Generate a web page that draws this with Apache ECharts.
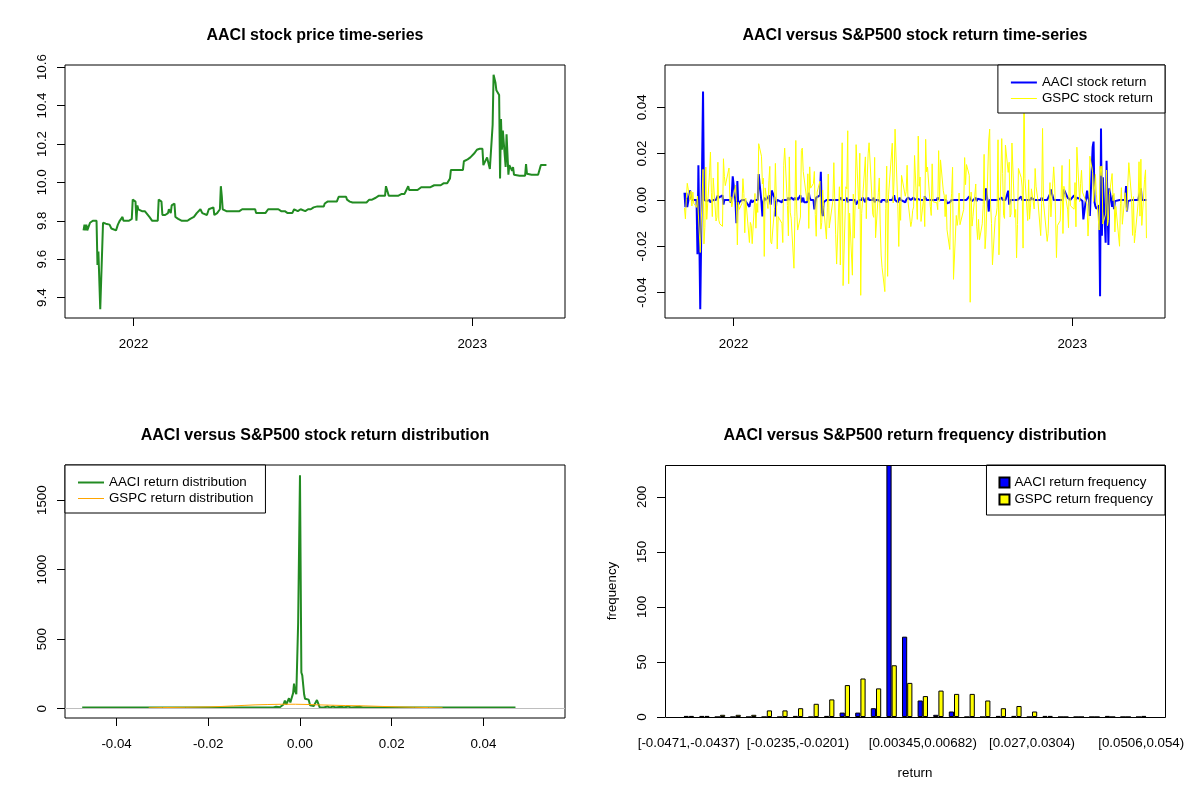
<!DOCTYPE html>
<html>
<head>
<meta charset="utf-8">
<title>AACI versus S&amp;P500</title>
<script src="https://cdn.jsdelivr.net/npm/echarts@6.0.0/dist/echarts.min.js"></script>
<style>
    html, body { margin: 0; padding: 0; background: #fff; }
    #chart { width: 1200px; height: 800px; }
</style>
</head>
<body>
<div id="chart"></div>
<script>
    // ---- data ----
    var firstDay = '2021-11-08';
    var marketHolidays = ['2021-11-25', '2021-12-24', '2022-01-17', '2022-02-21', '2022-04-15',
        '2022-05-30', '2022-06-20', '2022-07-04', '2022-09-05', '2022-11-24', '2022-12-26',
        '2023-01-02', '2023-01-16', '2023-02-20'];

    // AACI closing price, one value per trading day
    var aaciPrice = [
        9.75, 9.78, 9.75, 9.78, 9.75, 9.79, 9.80, 9.80, 9.80, 9.80,
        9.80, 9.57, 9.64, 9.34, 9.79, 9.79, 9.785, 9.785, 9.78, 9.78,
        9.77, 9.76, 9.75, 9.75, 9.75, 9.76, 9.78, 9.79, 9.80, 9.82,
        9.80, 9.80, 9.80, 9.80, 9.80, 9.79, 9.81, 9.91, 9.90, 9.80,
        9.88, 9.86, 9.85, 9.85, 9.85, 9.85, 9.85, 9.85, 9.82, 9.81,
        9.81, 9.80, 9.80, 9.80, 9.80, 9.80, 9.91, 9.90, 9.83, 9.82,
        9.83, 9.83, 9.84, 9.86, 9.86, 9.84, 9.88, 9.89, 9.82, 9.81,
        9.81, 9.81, 9.80, 9.80, 9.80, 9.80, 9.80, 9.81, 9.81, 9.81,
        9.82, 9.82, 9.83, 9.83, 9.84, 9.84, 9.86, 9.85, 9.84, 9.85,
        9.84, 9.83, 9.83, 9.86, 9.87, 9.87, 9.87, 9.83, 9.82, 9.83,
        9.84, 9.86, 9.98, 9.93, 9.86, 9.85, 9.85, 9.85, 9.85, 9.85,
        9.85, 9.85, 9.85, 9.85, 9.85, 9.85, 9.85, 9.86, 9.86, 9.86,
        9.86, 9.87, 9.86, 9.86, 9.86, 9.86, 9.86, 9.86, 9.86, 9.84,
        9.84, 9.84, 9.84, 9.84, 9.85, 9.84, 9.85, 9.85, 9.86, 9.86,
        9.86, 9.87, 9.86, 9.86, 9.86, 9.86, 9.86, 9.85, 9.85, 9.85,
        9.85, 9.84, 9.84, 9.84, 9.84, 9.84, 9.86, 9.86, 9.85, 9.85,
        9.86, 9.86, 9.86, 9.85, 9.85, 9.85, 9.86, 9.86, 9.86, 9.86,
        9.87, 9.87, 9.875, 9.875, 9.875, 9.875, 9.875, 9.875, 9.89, 9.90,
        9.90, 9.90, 9.90, 9.90, 9.90, 9.90, 9.90, 9.90, 9.91, 9.925,
        9.925, 9.925, 9.925, 9.925, 9.925, 9.925, 9.91, 9.90, 9.895, 9.895,
        9.895, 9.895, 9.895, 9.895, 9.895, 9.895, 9.895, 9.895, 9.895, 9.895,
        9.895, 9.91, 9.915, 9.915, 9.91, 9.91, 9.92, 9.915, 9.92, 9.93,
        9.93, 9.93, 9.93, 9.93, 9.93, 9.98, 9.93, 9.93, 9.93, 9.93,
        9.93, 9.93, 9.93, 9.93, 9.93, 9.93, 9.94, 9.94, 9.94, 9.94,
        9.94, 9.98, 9.96, 9.96, 9.96, 9.96, 9.96, 9.96, 9.96, 9.96,
        9.96, 9.975, 9.975, 9.975, 9.975, 9.975, 9.975, 9.975, 9.975, 9.975,
        9.985, 9.985, 9.985, 9.985, 9.985, 9.985, 9.995, 9.995, 9.995, 9.995,
        9.995, 9.995, 9.995, 10.02, 10.065, 10.065, 10.065, 10.065, 10.065, 10.065,
        10.065, 10.065, 10.065, 10.065, 10.11, 10.12, 10.125, 10.13, 10.13, 10.15,
        10.16, 10.16, 10.17, 10.175, 10.18, 10.18, 10.175, 10.09, 10.13, 10.14,
        10.14, 10.07, 10.30, 10.56, 10.55, 10.52, 10.48, 10.455, 10.02, 10.33,
        10.17, 10.27, 10.08, 10.25, 10.24, 10.04, 10.09, 10.06, 10.08, 10.04,
        10.035, 10.035, 10.035, 10.035, 10.035, 10.035, 10.035, 10.095, 10.045, 10.04,
        10.04, 10.04, 10.04, 10.04, 10.04, 10.04, 10.04, 10.04, 10.04, 10.09,
        10.09, 10.09, 10.09, 10.09
    ];

    // daily returns, starting with the second trading day
    var aaciReturn = [
        0.0031, -0.0031, 0.0031, -0.0031, 0.0041, 0.0010, 0, 0, 0, 0,
        -0.0235, 0.0150, -0.0472, 0.0468, 0, -0.0005, 0, -0.0005, 0, -0.0010,
        -0.0010, -0.0010, 0, 0, 0.0010, 0.0020, 0.0010, 0.0010, 0.0020, -0.0020,
        0, 0, 0, 0, -0.0010, 0.0020, 0.0102, -0.0010, -0.0101, 0.0082,
        -0.0020, -0.0010, 0, 0, 0, 0, 0, -0.0030, -0.0010, 0,
        -0.0010, 0, 0, 0, 0, 0.0112, -0.0010, -0.0071, -0.0010, 0.0010,
        0, 0.0010, 0.0020, 0, -0.0020, 0.0041, 0.0010, -0.0071, -0.0010, 0,
        0, -0.0010, 0, 0, 0, 0, 0.0010, 0, 0, 0.0010,
        0, 0.0010, 0, 0.0010, 0, 0.0020, -0.0010, -0.0010, 0.0010, -0.0010,
        -0.0010, 0, 0.0031, 0.0010, 0, 0, -0.0041, -0.0010, 0.0010, 0.0010,
        0.0020, 0.0122, -0.0050, -0.0070, -0.0010, 0, 0, 0, 0, 0,
        0, 0, 0, 0, 0, 0, 0.0010, 0, 0, 0,
        0.0010, -0.0010, 0, 0, 0, 0, 0, 0, -0.0020, 0,
        0, 0, 0, 0.0010, -0.0010, 0.0010, 0, 0.0010, 0, 0,
        0.0010, -0.0010, 0, 0, 0, 0, -0.0010, 0, 0, 0,
        -0.0010, 0, 0, 0, 0, 0.0020, 0, -0.0010, 0, 0.0010,
        0, 0, -0.0010, 0, 0, 0.0010, 0, 0, 0, 0.0010,
        0, 0.0005, 0, 0, 0, 0, 0, 0.0015, 0.0010, 0,
        0, 0, 0, 0, 0, 0, 0, 0.0010, 0.0015, 0,
        0, 0, 0, 0, 0, -0.0015, -0.0010, -0.0005, 0, 0,
        0, 0, 0, 0, 0, 0, 0, 0, 0, 0,
        0.0015, 0.0005, 0, -0.0005, 0, 0.0010, -0.0005, 0.0005, 0.0010, 0,
        0, 0, 0, 0, 0.0050, -0.0050, 0, 0, 0, 0,
        0, 0, 0, 0, 0, 0.0010, 0, 0, 0, 0,
        0.0040, -0.0020, 0, 0, 0, 0, 0, 0, 0, 0,
        0.0015, 0, 0, 0, 0, 0, 0, 0, 0, 0.0010,
        0, 0, 0, 0, 0, 0.0010, 0, 0, 0, 0,
        0, 0, 0.0025, 0.0045, 0, 0, 0, 0, 0, 0,
        0, 0, 0, 0.0045, 0.0010, 0.0005, 0.0005, 0, 0.0020, 0.0010,
        0, 0.0010, 0.0005, 0.0005, 0, -0.0005, -0.0084, 0.0040, 0.0010, 0,
        -0.0069, 0.0228, 0.0252, -0.0009, -0.0028, -0.0038, -0.0024, -0.0416, 0.0309, -0.0155,
        0.0098, -0.0185, 0.0169, -0.0010, -0.0195, 0.0050, -0.0030, 0.0020, -0.0040, -0.0005,
        0, 0, 0, 0, 0, 0, 0.0060, -0.0050, -0.0005, 0,
        0, 0, 0, 0, 0, 0, 0, 0, 0.0050, 0,
        0, 0, 0
    ];

    var gspcReturn = [
        -0.0035, -0.0082, 0.0006, 0.0072, 0.0000, 0.0039, -0.0026, 0.0034, -0.0014, -0.0032, 0.0017, 0.0023, -0.0227, 0.0132, -0.0190,
        -0.0118, 0.0142, -0.0084, 0.0117, 0.0207, 0.0031, -0.0072, 0.0095, -0.0091, -0.0075, 0.0163, -0.0087, -0.0103, -0.0114, 0.0178, 0.0102, 0.0062, 0.0138, -0.0010, 0.0014, -0.0030, -0.0026,
        0.0064, -0.0006, -0.0194, -0.0010, -0.0041, -0.0014, 0.0092, 0.0028, -0.0142, 0.0008, -0.0184, -0.0097, -0.0110, -0.0189, 0.0028, -0.0122, -0.0015, -0.0054, 0.0243, 0.0189,
        0.0069, 0.0094, -0.0244, 0.0052, -0.0037, 0.0084, 0.0145, -0.0181, -0.0190, -0.0038, 0.0158, 0.0009, -0.0212, -0.0072, -0.0101, -0.0184, 0.0150, 0.0224, -0.0024,
        -0.0155, 0.0186, -0.0053, -0.0079, -0.0295, -0.0072, 0.0257, -0.0043, -0.0130, -0.0074, 0.0214, 0.0224, 0.0123, 0.0117, -0.0004, 0.0113, -0.0123, 0.0143, 0.0051, 0.0071, 0.0123, -0.0063, -0.0157,
        0.0034, 0.0081, -0.0126, -0.0097, 0.0043, -0.0027, -0.0169, -0.0034, 0.0112, -0.0121, -0.0002, 0.0161, -0.0006, -0.0148, -0.0277, 0.0057, -0.0281, 0.0021, 0.0247, -0.0370,
        0.0057, 0.0048, 0.0299, -0.0362, -0.0057, -0.0325, 0.0025, -0.0165, -0.0013, 0.0239, -0.0039, 0.0202, -0.0412, -0.0058, 0.0001, 0.0186, -0.0081, 0.0095, 0.0199, 0.0247, -0.0063,
        -0.0075, 0.0184, -0.0163, 0.0031, 0.0095, -0.0108, -0.0238, -0.0291, -0.0396, -0.0038, 0.0146, -0.0330, 0.0022, 0.0245, -0.0013, 0.0095, 0.0306, -0.0030, -0.0201, -0.0007, -0.0088,
        0.0106, 0.0016, 0.0036, 0.0150, -0.0008, -0.0115, -0.0092, -0.0045, -0.0030, 0.0192, -0.0084, 0.0276, 0.0059, 0.0099, -0.0093, 0.0013, -0.0115, 0.0262, 0.0121, 0.0142,
        -0.0028, -0.0067, 0.0156, -0.0008, -0.0016, -0.0012, -0.0042, 0.0213, -0.0007, 0.0173, 0.0040, 0.0019, -0.0072, 0.0023, -0.0129, -0.0214, -0.0022, 0.0029, 0.0141, -0.0343, -0.0067, -0.0110, -0.0078,
        0.0030, -0.0107, -0.0041, 0.0183, 0.0066, 0.0153, 0.0106, -0.0442, 0.0034, -0.0113, -0.0072, 0.0069, -0.0113, -0.0171, -0.0084, -0.0172, -0.0103, -0.0021, 0.0197, -0.0211, -0.0151,
        0.0259, 0.0306, -0.0020, -0.0102, -0.0280, -0.0075, -0.0065, -0.0033, 0.0260, -0.0237, 0.0265, 0.0114, -0.0067, -0.0080, 0.0237, 0.0119, 0.0163, -0.0074, -0.0061, 0.0246, -0.0075,
        -0.0041, -0.0250, -0.0106, 0.0136, 0.0096, 0.0056, -0.0208, 0.0539, 0.0092, -0.0089, 0.0087, -0.0083, -0.0031, 0.0048, -0.0039, 0.0136, 0.0059, -0.0003, -0.0154, -0.0016, 0.0309,
        -0.0009, -0.0012, -0.0179, -0.0144, -0.0019, 0.0075, -0.0073, 0.0143, 0.0073, -0.0061, -0.0249, -0.0111, -0.0090, 0.0010, 0.0149, -0.0145, 0.0059, -0.0040, -0.0120, 0.0175, -0.0025,
        -0.0040, 0.0075, -0.0116, 0.0228, -0.0008, 0.0070, 0.0128, 0.0034, 0.0040, -0.0020, -0.0156, -0.0076, 0.0189, 0.0119, -0.0007, -0.0002, 0.0110, 0.0025, -0.0130, 0.0146,
        0.0105, 0.0147, -0.0104, -0.0061, 0.0129, -0.0111, -0.0088, 0.0022, 0.0114, -0.0003, 0.0028, -0.0138, -0.0028, -0.0200, -0.0016, 0.0053, -0.0105, 0.0031, -0.0030,
        -0.0047, 0.0076, 0.0161, 0.0007, -0.0153, 0.0014, -0.0185, -0.0145, -0.0015, 0.0165, -0.0070, 0.0176, -0.0110, 0.0089, 0.0130, -0.0165
    ];

    // kernel density curves
    var aaciDensX = [-0.0475, -0.0473, -0.0470, -0.0424, -0.0422, -0.0420, -0.0209, -0.0207, -0.0205,
        -0.0130, -0.0127, -0.0124, -0.0105, -0.0102, -0.0099, -0.0078, -0.0075, -0.0072, -0.0064,
        -0.0061, -0.0058, -0.0052, -0.0048, -0.0044, -0.0040, -0.0036, -0.0033, -0.0030, -0.0027,
        -0.0024, -0.0021, -0.0018, -0.0015, -0.0013, -0.0011, -0.0008, -0.0004, 0, 0.0003,
        0.0005, 0.0007, 0.0009, 0.0011, 0.0015, 0.0019, 0.0022, 0.0026, 0.0030, 0.0034,
        0.0037, 0.0040, 0.0043, 0.0047, 0.0052, 0.0060, 0.0065, 0.0072, 0.0078, 0.0090,
        0.0096, 0.0105, 0.0112, 0.0130, 0.0137, 0.0225, 0.0229, 0.0233, 0.0248, 0.0251,
        0.0254, 0.0299, 0.0302, 0.0305, 0.0464, 0.0467, 0.0470];
    var aaciDensY = [8, 22, 8, 8, 20, 8, 8, 20, 8,
        8, 18, 8, 8, 18, 8, 8, 18, 8, 8,
        20, 8, 14, 22, 10, 24, 30, 58, 30, 34,
        75, 44, 34, 112, 180, 128, 104, 620, 1680, 260,
        240, 250, 104, 72, 72, 65, 24, 12, 20, 30,
        62, 48, 10, 18, 8, 16, 8, 16, 8, 14,
        8, 16, 8, 14, 8, 8, 20, 8, 8, 20,
        8, 8, 18, 8, 8, 22, 8];
    var gspcDensX = [-0.0330, -0.0300, -0.0250, -0.0196, -0.0170, -0.0145, -0.0120, -0.0098, -0.0070, -0.0040,
        -0.0010, 0.0020, 0.0040, 0.0070, 0.0100, 0.0142, 0.0180, 0.0213, 0.0250, 0.0280, 0.0311];
    var gspcDensY = [6, 8, 10, 13, 16, 20, 24, 27.5, 30, 32,
        32, 30, 27.5, 25, 22.5, 20, 16, 13, 10, 8, 6];

    // histogram of returns, 30 equal bins
    var binEdges = ['-0.0471', '-0.0437', '-0.0404', '-0.037', '-0.0336', '-0.0302', '-0.0269', '-0.0235',
        '-0.0201', '-0.0168', '-0.0134', '-0.01', '-0.00666', '-0.00329', '8.26e-05', '0.00345', '0.00682',
        '0.0102', '0.0136', '0.0169', '0.0203', '0.0237', '0.027', '0.0304', '0.0338', '0.0372', '0.0405',
        '0.0439', '0.0473', '0.0506', '0.054'];
    var aaciFreq = [1, 1, 0, 0, 0, 0, 0, 1, 0, 1, 4, 4, 8, 229, 73, 15, 2, 5, 0, 0, 1, 1, 0, 1, 0, 0, 0, 1, 0, 0];
    var gspcFreq = [1, 1, 2, 2, 2, 6, 6, 8, 12, 16, 29, 35, 26, 47, 31, 19, 24, 21, 21, 15, 8, 10, 5, 1, 0, 0, 0, 0, 0, 1];
    var shownBinLabels = [0, 7, 15, 22, 29];

    var priceTicks = [9.4, 9.6, 9.8, 10.0, 10.2, 10.4, 10.6];
    var returnTicks = [-0.04, -0.02, 0, 0.02, 0.04];
    var densityTicks = [0, 500, 1000, 1500];
    var freqTicks = [0, 50, 100, 150, 200];
    var yearTicks = [Date.UTC(2022, 0, 1), Date.UTC(2023, 0, 1)];

    // ---- helpers ----
    function tradingDays(start, n, skip) {
        var out = [];
        var t = Date.parse(start + 'T00:00:00Z');
        while (out.length < n) {
            var d = new Date(t);
            var wd = d.getUTCDay();
            if (wd !== 0 && wd !== 6 && skip.indexOf(d.toISOString().slice(0, 10)) < 0) out.push(t);
            t += 86400000;
        }
        return out;
    }
    function zip(xs, ys) {
        return xs.map(function (x, i) { return [x, ys[i]]; });
    }

    var dates = tradingDays(firstDay, aaciPrice.length, marketHolidays);
    var binLabels = [];
    for (var b = 0; b + 1 < binEdges.length; b++) binLabels.push('[' + binEdges[b] + ',' + binEdges[b + 1] + ')');

    var FONT = '"Liberation Sans", Arial, Helvetica, sans-serif';
    var txt = {fontFamily: FONT, fontSize: 13.33, color: '#000'};
    var tMin = Date.UTC(2021, 9, 19), tMax = Date.UTC(2023, 3, 11);

    function valueAxis(grid, min, max, ticks, fmt, extra) {
        var ax = {
            type: 'value', gridIndex: grid, min: min, max: max, scale: true,
            axisLine: {show: false, onZero: false}, splitLine: {show: false},
            axisTick: {show: true, length: 8, customValues: ticks, lineStyle: {color: '#000'}},
            axisLabel: Object.assign({customValues: ticks, margin: 20, formatter: fmt}, txt)
        };
        return Object.assign(ax, extra || {});
    }
    function fixed(digits) {
        return function (v) { return Number(v).toFixed(digits); };
    }
    function yearOf(v) {
        return String(new Date(v).getUTCFullYear());
    }
    function yAxisRot(grid, min, max, ticks, digits, extra) {
        var ax = valueAxis(grid, min, max, ticks, fixed(digits), extra);
        ax.axisLabel.rotate = 90;
        ax.axisLabel.margin = 16;
        return ax;
    }
    function mainTitle(text, x, y) {
        return {text: text, left: x, top: y, textAlign: 'center', padding: 0,
            textStyle: {fontFamily: FONT, fontSize: 16, fontWeight: 'bold', color: '#000'}};
    }
    function boxLegend(names, pos, extra) {
        return Object.assign({
            data: names, orient: 'vertical', selectedMode: false,
            padding: [11, 12, 8, 12], itemGap: 3, itemWidth: 26, itemHeight: 13,
            borderColor: '#000', borderWidth: 1, borderRadius: 0, backgroundColor: '#fff',
            textStyle: txt
        }, pos, extra || {});
    }

    var chart = echarts.init(document.getElementById('chart'), null, {renderer: 'canvas'});
    var gridBox = {show: true, borderColor: '#000', borderWidth: 1, backgroundColor: 'transparent'};

    var option = {
        animation: false,
        backgroundColor: '#fff',
        title: [
            mainTitle('AACI stock price time-series', 315, 28),
            mainTitle('AACI versus S&P500 stock return time-series', 915, 28),
            mainTitle('AACI versus S&P500 stock return distribution', 315, 428),
            mainTitle('AACI versus S&P500 return frequency distribution', 915, 428)
        ],
        grid: [
            Object.assign({left: 65, top: 65, width: 500, height: 253}, gridBox),
            Object.assign({left: 665, top: 65, width: 500, height: 253}, gridBox),
            Object.assign({left: 65, top: 465, width: 500, height: 253}, gridBox),
            {left: 681, top: 465, width: 468, height: 252, show: false}
        ],
        xAxis: [
            valueAxis(0, tMin, tMax, yearTicks, yearOf),
            valueAxis(1, tMin, tMax, yearTicks, yearOf),
            valueAxis(2, -0.05125, 0.0578, returnTicks, fixed(2)),
            {
                type: 'category', gridIndex: 3, data: binLabels,
                axisLine: {show: false, onZero: false}, axisTick: {show: false}, splitLine: {show: false},
                axisLabel: Object.assign({margin: 20,
                    interval: function (i) { return shownBinLabels.indexOf(i) >= 0; }}, txt),
                name: 'return', nameLocation: 'middle', nameGap: 50, nameTextStyle: txt
            }
        ],
        yAxis: [
            yAxisRot(0, 9.294, 10.611, priceTicks, 1),
            yAxisRot(1, -0.051, 0.0583, returnTicks, 2),
            yAxisRot(2, -67, 1753, densityTicks, 0),
            yAxisRot(3, 0, 229, freqTicks, 0, {
                offset: 16, name: 'frequency', nameLocation: 'middle', nameGap: 46,
                nameRotate: 90, nameTextStyle: txt
            })
        ],
        legend: [
            boxLegend([
                {name: 'AACI stock return', lineStyle: {width: 2}},
                {name: 'GSPC stock return', lineStyle: {width: 1}}
            ], {right: 35, top: 65}, {itemStyle: {opacity: 0}}),
            boxLegend([
                {name: 'AACI return distribution', lineStyle: {width: 2}},
                {name: 'GSPC return distribution', lineStyle: {width: 1}}
            ], {left: 65, top: 465}, {itemStyle: {opacity: 0}}),
            boxLegend(['AACI return frequency', 'GSPC return frequency'], {right: 35, top: 465},
                {icon: 'rect', itemWidth: 10, itemHeight: 10, itemGap: 4, padding: [11, 12, 9, 12]})
        ],
        series: [
            {
                name: 'AACI stock price', type: 'line', xAxisIndex: 0, yAxisIndex: 0,
                data: zip(dates, aaciPrice), symbol: 'none', showSymbol: false,
                lineStyle: {color: '#228B22', width: 2}, itemStyle: {color: '#228B22'}
            },
            {
                name: 'AACI stock return', type: 'line', xAxisIndex: 1, yAxisIndex: 1,
                data: zip(dates.slice(1), aaciReturn), symbol: 'none', showSymbol: false,
                lineStyle: {color: '#0000FF', width: 2}, itemStyle: {color: '#0000FF'}
            },
            {
                name: 'GSPC stock return', type: 'line', xAxisIndex: 1, yAxisIndex: 1,
                data: zip(dates.slice(1), gspcReturn), symbol: 'none', showSymbol: false,
                lineStyle: {color: '#FFFF00', width: 1}, itemStyle: {color: '#FFFF00'}
            },
            {
                name: 'AACI return distribution', type: 'line', xAxisIndex: 2, yAxisIndex: 2,
                data: zip(aaciDensX, aaciDensY), symbol: 'none', showSymbol: false,
                lineStyle: {color: '#228B22', width: 2}, itemStyle: {color: '#228B22'},
                markLine: {
                    silent: true, symbol: 'none', label: {show: false},
                    lineStyle: {color: '#BEBEBE', width: 1, type: 'solid'},
                    data: [{yAxis: 0}]
                }
            },
            {
                name: 'GSPC return distribution', type: 'line', xAxisIndex: 2, yAxisIndex: 2, z: 3,
                data: zip(gspcDensX, gspcDensY), symbol: 'none', showSymbol: false,
                lineStyle: {color: '#FFA500', width: 1}, itemStyle: {color: '#FFA500'}
            },
            {
                name: 'AACI return frequency', type: 'bar', xAxisIndex: 3, yAxisIndex: 3,
                data: aaciFreq, barGap: '0%', barCategoryGap: '33.33%',
                itemStyle: {color: '#0000FF', borderColor: '#000', borderWidth: 1}
            },
            {
                name: 'GSPC return frequency', type: 'bar', xAxisIndex: 3, yAxisIndex: 3,
                data: gspcFreq, barGap: '0%', barCategoryGap: '33.33%',
                itemStyle: {color: '#FFFF00', borderColor: '#000', borderWidth: 1}
            }
        ],
        graphic: [{
            type: 'rect', silent: true, z: 100,
            shape: {x: 665.5, y: 465.5, width: 500, height: 252},
            style: {fill: 'none', stroke: '#000', lineWidth: 1}
        }]
    };
    chart.setOption(option);
</script>
</body>
</html>
